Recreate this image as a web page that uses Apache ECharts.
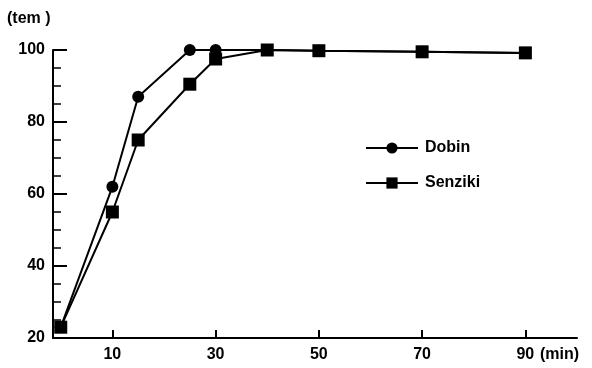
<!DOCTYPE html>
<html>
<head>
<meta charset="utf-8">
<script src="https://cdn.jsdelivr.net/npm/echarts@6/dist/echarts.min.js"></script>
<style>
  html, body { margin: 0; padding: 0; background: #fff; }
  #chart { width: 592px; height: 368px; }
</style>
</head>
<body>
<div id="chart"></div>
<script>
// minutes
var minutes = [0, 10, 15, 25, 30, 40, 50, 70, 90];
var dobin = [23, 62, 87, 100, 100, 100, 99.8, 99.5, 99.2];
var senziki = [23, 55, 75, 90.5, 97.5, 100, 99.8, 99.5, 99.2];
var xTicks = [10, 30, 50, 70, 90];

function pairs(xs, ys) {
    return xs.map(function(x, i) { return [x, ys[i]]; });
}

var font = 'Liberation Sans, Arial, sans-serif';

var option = {
    animation: false,
    backgroundColor: '#fff',
    grid: { left: 53, right: 15, top: 50, bottom: 30, outerBoundsMode: 'none' },
    legend: {
        orient: 'vertical',
        left: 360,
        top: 135,
        itemWidth: 52,
        itemHeight: 14,
        itemGap: 19,
        textStyle: { fontFamily: font, fontSize: 16, fontWeight: 'bold', color: '#000', padding: [0, 0, 0, 2] },
        data: ['Dobin', 'Senziki']
    },
    xAxis: {
        type: 'value',
        min: -1.5,
        max: 100,
        splitLine: { show: false },
        axisLine: { onZero: false, lineStyle: { color: '#000', width: 2 } },
        axisTick: {
            inside: true, length: 8, customValues: xTicks,
            lineStyle: { color: '#000', width: 2 }
        },
        axisLabel: {
            customValues: xTicks, margin: 9,
            fontFamily: font, fontSize: 16, fontWeight: 'bold', color: '#000'
        }
    },
    yAxis: {
        type: 'value',
        min: 20,
        max: 100,
        interval: 20,
        splitLine: { show: false },
        axisLine: { show: true, onZero: false, lineStyle: { color: '#000', width: 2 } },
        axisTick: { inside: true, length: 14, lineStyle: { color: '#000', width: 2 } },
        minorTick: { show: true, splitNumber: 4, length: 8, lineStyle: { color: '#000', width: 1.5 } },
        axisLabel: {
            margin: 8, fontFamily: font, fontSize: 16, fontWeight: 'bold', color: '#000'
        }
    },
    graphic: [
        { type: 'text', left: 7, top: 11, style: { text: '(tem )', font: 'bold 16px ' + font, fill: '#000' } },
        { type: 'text', left: 540, top: 347, style: { text: '(min)', font: 'bold 16px ' + font, fill: '#000' } }
    ],
    series: [
        {
            name: 'Dobin',
            type: 'line',
            data: pairs(minutes, dobin),
            symbol: 'circle',
            symbolSize: 12,
            showAllSymbol: true,
            lineStyle: { color: '#000', width: 2 },
            itemStyle: { color: '#000' }
        },
        {
            name: 'Senziki',
            type: 'line',
            data: pairs(minutes, senziki),
            symbol: 'rect',
            symbolSize: 13,
            showAllSymbol: true,
            lineStyle: { color: '#000', width: 2 },
            itemStyle: { color: '#000' }
        }
    ]
};

var myChart = echarts.init(document.getElementById('chart'));
myChart.setOption(option);
</script>
</body>
</html>
